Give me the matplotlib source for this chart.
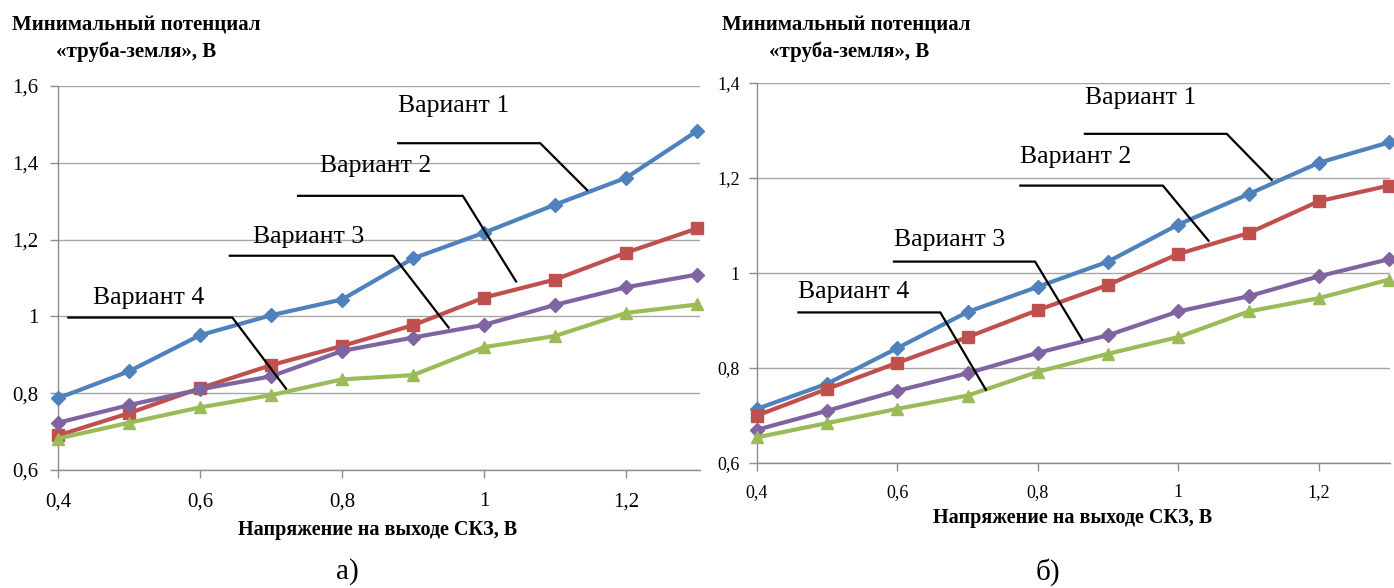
import matplotlib
matplotlib.use("Agg")
import matplotlib.pyplot as plt

# Напряжение на выходе СКЗ, В
voltage = [0.4, 0.5, 0.6, 0.7, 0.8, 0.9, 1.0, 1.1, 1.2, 1.3]
variant_names = ["Вариант 1", "Вариант 2", "Вариант 3", "Вариант 4"]

# Panel а): минимальный потенциал «труба-земля», В
a_var1 = [0.787, 0.857, 0.951, 1.003, 1.044, 1.151, 1.218, 1.291, 1.361, 1.483]
a_var2 = [0.690, 0.748, 0.813, 0.873, 0.923, 0.977, 1.049, 1.096, 1.166, 1.229]
a_var3 = [0.723, 0.769, 0.810, 0.844, 0.910, 0.945, 0.978, 1.030, 1.076, 1.109]
a_var4 = [0.682, 0.723, 0.763, 0.795, 0.836, 0.847, 0.920, 0.949, 1.009, 1.031]

# Panel б)
b_var1 = [0.714, 0.767, 0.842, 0.918, 0.971, 1.024, 1.102, 1.166, 1.232, 1.275]
b_var2 = [0.700, 0.756, 0.811, 0.865, 0.922, 0.975, 1.040, 1.084, 1.151, 1.184]
b_var3 = [0.670, 0.710, 0.752, 0.789, 0.832, 0.869, 0.919, 0.951, 0.993, 1.029]
b_var4 = [0.654, 0.684, 0.714, 0.742, 0.792, 0.830, 0.865, 0.919, 0.947, 0.986]

x_ticks = [0.4, 0.6, 0.8, 1.0, 1.2]
x_tick_labels = ["0,4", "0,6", "0,8", "1", "1,2"]
a_y_ticks = [0.6, 0.8, 1.0, 1.2, 1.4, 1.6]
a_y_tick_labels = ["0,6", "0,8", "1", "1,2", "1,4", "1,6"]
b_y_ticks = [0.6, 0.8, 1.0, 1.2, 1.4]
b_y_tick_labels = ["0,6", "0,8", "1", "1,2", "1,4"]

y_title_lines = ["Минимальный потенциал", "«труба-земля», В"]
x_title = "Напряжение на выходе СКЗ, В"
panel_labels = ["а)", "б)"]

colors = ["#4F81BD", "#C0504D", "#8064A2", "#9BBB59"]
markers = ["D", "s", "D", "^"]
marker_sizes = [7.5, 8, 7.5, 8.5]

SERIF = "Liberation Serif"
GRID = "#A6A6A6"

# Callouts: (text x, text y, [leader x], [leader y]) in data units
a_callouts = [
    (0.879, 1.548, [0.879, 1.079, 1.145], [1.451, 1.451, 1.329]),
    (0.769, 1.392, [0.738, 0.970, 1.045], [1.314, 1.314, 1.091]),
    (0.675, 1.208, [0.642, 0.872, 0.950], [1.158, 1.158, 0.971]),
    (0.449, 1.047, [0.4145, 0.6455, 0.721], [0.997, 0.997, 0.812]),
]
b_callouts = [
    (0.867, 1.369, [0.867, 1.069, 1.133], [1.293, 1.293, 1.196]),
    (0.775, 1.245, [0.775, 0.978, 1.043], [1.184, 1.184, 1.068]),
    (0.595, 1.070, [0.595, 0.796, 0.863], [1.024, 1.024, 0.860]),
    (0.459, 0.961, [0.459, 0.661, 0.726], [0.917, 0.917, 0.754]),
]

W, H = 1394, 588
fig = plt.figure(figsize=(W / 100, H / 100), dpi=100)


def px_axes(x0, y0, x1, y1):
    return fig.add_axes([x0 / W, 1 - y1 / H, (x1 - x0) / W, (y1 - y0) / H])


def draw_panel(ax, series, ylim, yticks, yticklabels, xlim, callouts,
               tick_size, callout_size, xpad, ypad):
    for vals, c, m, ms in zip(series, colors, markers, marker_sizes):
        ax.plot(voltage, vals, color=c, lw=3.0, marker=m, ms=ms,
                mfc=c, mec=c, clip_on=False, zorder=3,
                solid_joinstyle="round")
    for (tx, ty, lx, ly), name in zip(callouts, variant_names):
        ax.plot(lx, ly, color="black", lw=1.6, zorder=4, clip_on=False)
        ax.text(tx, ty, name, family=SERIF, fontsize=callout_size,
                ha="left", va="center", zorder=5)
    ax.set_xlim(*xlim)
    ax.set_ylim(*ylim)
    ax.set_xticks(x_ticks)
    ax.set_xticklabels(x_tick_labels, family=SERIF, fontsize=tick_size)
    ax.set_yticks(yticks)
    ax.set_yticklabels(yticklabels, family=SERIF, fontsize=tick_size)
    ax.grid(axis="y", color=GRID, lw=1.0, zorder=0)
    ax.set_axisbelow(True)
    for s in ("top", "right"):
        ax.spines[s].set_visible(False)
    for s in ("left", "bottom"):
        ax.spines[s].set_color("#8C8C8C")
        ax.spines[s].set_linewidth(1.0)
    ax.tick_params(axis="x", direction="out", length=6, width=1,
                   color="#8C8C8C", pad=xpad)
    ax.tick_params(axis="y", direction="out", length=6, width=1,
                   color="#8C8C8C", pad=ypad)


ax_a = px_axes(58, 86, 700, 470)
draw_panel(ax_a, [a_var1, a_var2, a_var3, a_var4], (0.6, 1.6),
           a_y_ticks, a_y_tick_labels, (0.4, 1.304), a_callouts,
           tick_size=15, callout_size=18.5, xpad=10, ypad=8)

ax_b = px_axes(757, 83, 1390, 463)
draw_panel(ax_b, [b_var1, b_var2, b_var3, b_var4], (0.6, 1.4),
           b_y_ticks, b_y_tick_labels, (0.4, 1.3015), b_callouts,
           tick_size=13, callout_size=18.5, xpad=9, ypad=6.5)

# Axis titles
for x1, x2 in ((12, 136), (722, 849)):
    fig.text(x1 / W, 1 - 25 / H, y_title_lines[0], family=SERIF,
             weight="bold", fontsize=15, ha="left", va="center")
    fig.text(x2 / W, 1 - 52 / H, y_title_lines[1], family=SERIF,
             weight="bold", fontsize=15, ha="center", va="center")

fig.text(378 / W, 1 - 530 / H, x_title, family=SERIF, weight="bold",
         fontsize=14.5, ha="center", va="center")
fig.text(1073 / W, 1 - 518 / H, x_title, family=SERIF, weight="bold",
         fontsize=14.5, ha="center", va="center")

fig.text(347 / W, 1 - 572 / H, panel_labels[0], family=SERIF,
         fontsize=21, ha="center", va="center")
fig.text(1048 / W, 1 - 572 / H, panel_labels[1], family=SERIF,
         fontsize=21, ha="center", va="center")

fig.savefig("out.png", dpi=100, facecolor="white")
